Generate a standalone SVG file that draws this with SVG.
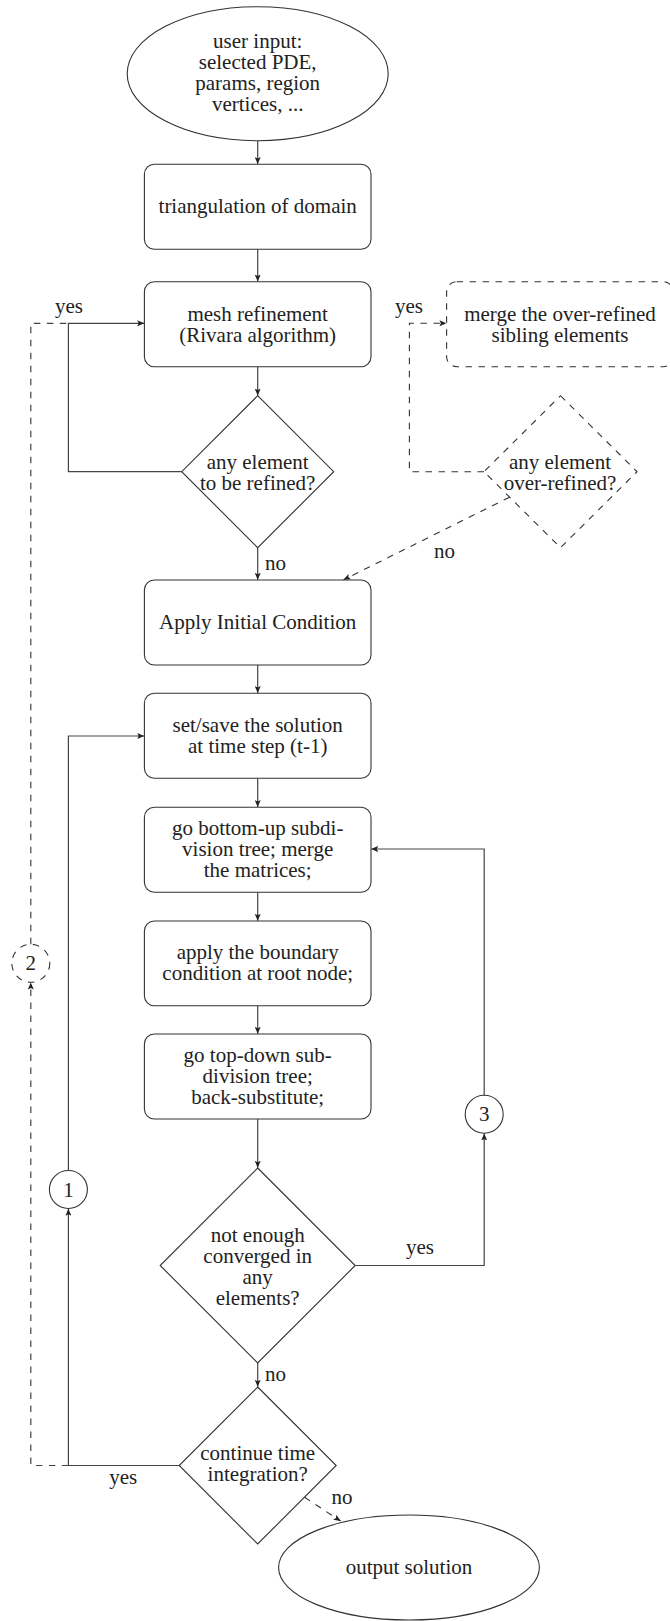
<svg xmlns="http://www.w3.org/2000/svg" width="670" height="1621" viewBox="0 0 670 1621">
<defs>
<marker id="arr" markerWidth="8" markerHeight="6" refX="7" refY="3" orient="auto" markerUnits="userSpaceOnUse">
<path d="M0,0 L7,3 L0,6 L1.5,3 z" fill="#222"/>
</marker>
</defs>
<style>
.n{fill:none;stroke:#333;stroke-width:1.1}
.d{fill:none;stroke:#333;stroke-width:1.1;stroke-dasharray:6.5 6.5}
.c{fill:none;stroke:#444;stroke-width:1.2}
.cd{fill:none;stroke:#444;stroke-width:1.2;stroke-dasharray:6.5 6.5}
text{font-family:"Liberation Serif","Times New Roman",serif;font-size:21px;fill:#222;text-anchor:middle;dominant-baseline:central}
</style>
<rect width="670" height="1621" fill="#fff"/>
<g id="connectors">
<path class="c" d="M257.7,141 V164" marker-end="url(#arr)"/>
<path class="c" d="M257.7,249.3 V281.5" marker-end="url(#arr)"/>
<path class="c" d="M257.7,366.7 V395.5" marker-end="url(#arr)"/>
<path class="c" d="M257.7,547.7 V579.8" marker-end="url(#arr)"/>
<path class="c" d="M257.7,665 V693" marker-end="url(#arr)"/>
<path class="c" d="M257.7,778.3 V807" marker-end="url(#arr)"/>
<path class="c" d="M257.7,892.3 V920.8" marker-end="url(#arr)"/>
<path class="c" d="M257.7,1005.7 V1033.8" marker-end="url(#arr)"/>
<path class="c" d="M257.7,1119 V1167.8" marker-end="url(#arr)"/>
<path class="c" d="M257.7,1363 V1386.8" marker-end="url(#arr)"/>
<path class="c" d="M181.7,471.7 H68.4 V323.3 H144.2" marker-end="url(#arr)"/>
<path class="cd" d="M30.8,944.3 V323.3 H68.4"/>
<path class="d" d="M484,471.7 H409.4 V323.3 H446.4" marker-end="url(#arr)"/>
<path class="d" d="M509.5,497.2 L343.5,579.8" marker-end="url(#arr)"/>
<path class="c" d="M484.2,1095.2 V849 H371.2" marker-end="url(#arr)"/>
<path class="c" d="M355.2,1265.5 H484.2 V1133.4" marker-end="url(#arr)"/>
<path class="c" d="M68.4,1170.5 V736 H144.2" marker-end="url(#arr)"/>
<path class="c" d="M179.2,1465.5 H68.4 V1208.7" marker-end="url(#arr)"/>
<path class="cd" d="M68.4,1465.5 H30.8 V982.5" marker-end="url(#arr)"/>
<path class="d" d="M304.6,1497.3 L340.6,1521" marker-end="url(#arr)"/>
<text x="69" y="306">yes</text>
<text x="409" y="306">yes</text>
<text x="275.6" y="563.3">no</text>
<text x="444.4" y="550.7">no</text>
<text x="420" y="1247.3">yes</text>
<text x="275.6" y="1374.3">no</text>
<text x="123.3" y="1477.3">yes</text>
<text x="342" y="1496.7">no</text>
</g>
<g id="start">
<ellipse class="n" cx="257.7" cy="73.7" rx="130.5" ry="67"/>
<text x="257.7" y="41">user input:</text>
<text x="257.7" y="62">selected PDE,</text>
<text x="257.7" y="83">params, region</text>
<text x="257.7" y="104">vertices, ...</text>
</g>
<g id="triangulation">
<rect class="n" x="144.4" y="164.3" width="226.6" height="85" rx="10"/>
<text x="257.7" y="206">triangulation of domain</text>
</g>
<g id="mesh">
<rect class="n" x="144.4" y="281.7" width="226.6" height="85" rx="10"/>
<text x="257.7" y="313.5">mesh refinement</text>
<text x="257.7" y="334.5">(Rivara algorithm)</text>
</g>
<g id="merge">
<rect class="d" x="446.6" y="281.7" width="226.6" height="85" rx="10"/>
<text x="560" y="313.5">merge the over-refined</text>
<text x="560" y="334.5">sibling elements</text>
</g>
<g id="refine">
<path class="n" d="M257.7,395.7 L333.7,471.7 L257.7,547.7 L181.7,471.7 z"/>
<text x="257.7" y="461.7">any element</text>
<text x="257.7" y="482.7">to be refined?</text>
</g>
<g id="overrefined">
<path class="d" d="M560.5,395.7 L637,471.7 L560.5,547.7 L484,471.7 z"/>
<text x="560" y="461.7">any element</text>
<text x="560" y="482.7">over-refined?</text>
</g>
<g id="initial">
<rect class="n" x="144.4" y="580" width="226.6" height="85" rx="10"/>
<text x="257.7" y="621.7">Apply Initial Condition</text>
</g>
<g id="setsave">
<rect class="n" x="144.4" y="693.3" width="226.6" height="85" rx="10"/>
<text x="257.7" y="725">set/save the solution</text>
<text x="257.7" y="746">at time step (t-1)</text>
</g>
<g id="bottomup">
<rect class="n" x="144.4" y="807.3" width="226.6" height="85" rx="10"/>
<text x="257.7" y="828.3">go bottom-up subdi-</text>
<text x="257.7" y="849.3">vision tree; merge</text>
<text x="257.7" y="870.3">the matrices;</text>
</g>
<g id="boundary">
<rect class="n" x="144.4" y="921" width="226.6" height="84.7" rx="10"/>
<text x="257.7" y="951.5">apply the boundary</text>
<text x="257.7" y="972.5">condition at root node;</text>
</g>
<g id="topdown">
<rect class="n" x="144.4" y="1034" width="226.6" height="85" rx="10"/>
<text x="257.7" y="1054.7">go top-down sub-</text>
<text x="257.7" y="1075.7">division tree;</text>
<text x="257.7" y="1096.7">back-substitute;</text>
</g>
<g id="converged">
<path class="n" d="M257.7,1168 L355.2,1265.5 L257.7,1363 L160.2,1265.5 z"/>
<text x="257.7" y="1234.5">not enough</text>
<text x="257.7" y="1255.5">converged in</text>
<text x="257.7" y="1276.5">any</text>
<text x="257.7" y="1297.5">elements?</text>
</g>
<g id="continue">
<path class="n" d="M257.7,1387 L336.2,1465.5 L257.7,1544 L179.2,1465.5 z"/>
<text x="257.7" y="1453.3">continue time</text>
<text x="257.7" y="1474.3">integration?</text>
</g>
<g id="output">
<ellipse class="n" cx="409" cy="1567.5" rx="130.4" ry="52.5"/>
<text x="409" y="1567.3">output solution</text>
</g>
<g id="c1">
<circle class="n" cx="68.4" cy="1189.5" r="19"/>
<text x="68.4" y="1189.5">1</text>
</g>
<g id="c2">
<circle class="d" cx="30.8" cy="963.3" r="19"/>
<text x="30.8" y="963.3">2</text>
</g>
<g id="c3">
<circle class="n" cx="484.2" cy="1114.2" r="19"/>
<text x="484.2" y="1114.2">3</text>
</g>
</svg>
